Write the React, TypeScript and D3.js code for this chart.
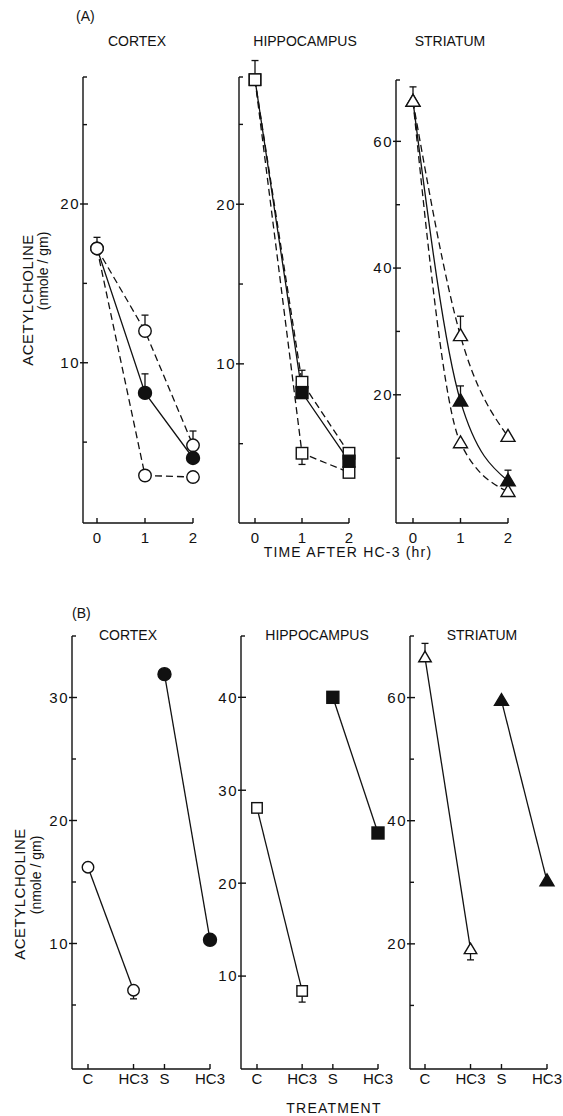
import React from 'react';
import * as d3 from 'd3';

// ---- Panel A : time after HC-3 (hr) ----
const hours = [0, 1, 2];

const cortexSolid = [17.2, 8.1, 4.0];
const cortexSolidErr = [0.7, 1.2, 0];
const cortexUpper = [17.2, 12.0, 4.8];
const cortexUpperErr = [0, 1.0, 0.9];
const cortexLower = [17.2, 2.9, 2.8];

const hippoSolid = [27.8, 8.2, 3.9];
const hippoUpper = [27.8, 8.85, 4.4];
const hippoUpperErr = [1.2, 0.75, 0];
const hippoLower = [27.8, 4.4, 3.2];
const hippoLowerErr = [0, -0.7, 0];

const striSolid = [66.3, 19.0, 6.4];
const striSolidErr = [2.3, 2.4, 1.7];
const striUpper = [66.3, 29.3, 13.4];
const striUpperErr = [0, 3.1, 0];
const striLower = [66.3, 12.4, 4.7];

// ---- Panel B : treatment ----
const treatments = ['C', 'HC3', 'S', 'HC3'];
const treatSpacing = [0, 1, 1.68, 2.68];

const cortexB = [16.2, 6.2, 31.9, 10.3];
const cortexBErr = [0, -0.7, 0, 0];
const hippoB = [28.1, 8.4, 40, 25.4];
const hippoBErr = [0, -1.2, 0, 0];
const striB = [66.5, 19.1, 59.5, 30.2];
const striBErr = [2.3, -1.7, 0, 0];

const FONT = '"Liberation Sans", Arial, Helvetica, sans-serif';
const INK = '#111';

const Marker = ({ shape, x, y, filled, s }: any) => {
  const fill = filled ? INK : '#fff';
  if (shape === 'circle') return <circle cx={x} cy={y} r={s / 2} fill={fill} stroke={INK} strokeWidth={1.4} />;
  if (shape === 'square') return <rect x={x - s / 2} y={y - s / 2} width={s} height={s} fill={fill} stroke={INK} strokeWidth={1.4} />;
  const h = s * 0.85;
  return (
    <path
      d={`M${x},${y - h * 0.6} L${x + s / 2},${y + h * 0.4} L${x - s / 2},${y + h * 0.4} Z`}
      fill={fill}
      stroke={INK}
      strokeWidth={1.4}
    />
  );
};

const ErrBar = ({ x, y, y2 }: any) => (
  <g stroke={INK} strokeWidth={1.3}>
    <line x1={x} x2={x} y1={y} y2={y2} />
    <line x1={x - 3.5} x2={x + 3.5} y1={y2} y2={y2} />
  </g>
);

const YAxis = ({ x, y, top, major, minor, bottom }: any) => (
  <g stroke={INK} strokeWidth={1.4}>
    <line x1={x} x2={x} y1={top} y2={bottom} />
    <line x1={x} x2={x + 4} y1={top} y2={top} />
    {major.map((t: number) => (
      <g key={'M' + t}>
        <line x1={x - 3} x2={x + 5} y1={y(t)} y2={y(t)} />
        <text x={x - 3} y={y(t)} dy="0.36em" textAnchor="end" fontSize={15} fontFamily={FONT} letterSpacing={1.5} fill={INK} stroke="none">
          {t}
        </text>
      </g>
    ))}
    {minor.map((t: number) => (
      <line key={'m' + t} x1={x} x2={x + 4} y1={y(t)} y2={y(t)} />
    ))}
  </g>
);

const XAxis = ({ x0, y0, positions, labels, labelY }: any) => (
  <g stroke={INK} strokeWidth={1.4}>
    <line x1={x0} x2={positions[positions.length - 1]} y1={y0} y2={y0} />
    {positions.map((p: number, i: number) => (
      <g key={i}>
        <line x1={p} x2={p} y1={y0} y2={y0 - 5} />
        <text x={p} y={labelY} textAnchor="middle" fontSize={15} fontFamily={FONT} fill={INK} stroke="none">
          {labels[i]}
        </text>
      </g>
    ))}
  </g>
);

const A_BOTTOM = 523;
const B_BOTTOM = 1069;

// one panel-A subplot
const TimePanel = ({ axisX, xr, ymax, yr, top, major, minor, shape, series, curve, title, titleX }: any) => {
  const x = d3.scaleLinear().domain([0, 2]).range(xr);
  const y = d3.scaleLinear().domain([0, ymax]).range(yr);
  const line = d3
    .line<number>()
    .x((_, i) => x(hours[i]))
    .y((d) => y(d))
    .curve(curve ? d3.curveMonotoneX : d3.curveLinear);
  const size = shape === 'circle' ? 12.5 : shape === 'square' ? 11.5 : 14;
  return (
    <g>
      <text x={titleX} y={46} textAnchor="middle" fontSize={14} fontFamily={FONT} fill={INK}>
        {title}
      </text>
      <YAxis x={axisX} y={y} top={top} major={major} minor={minor} bottom={A_BOTTOM} />
      <XAxis x0={axisX} y0={A_BOTTOM} positions={hours.map((h) => x(h))} labels={hours.map(String)} labelY={543} />
      {series.map((s: any, k: number) => (
        <path key={k} d={line(s.values) || ''} fill="none" stroke={INK} strokeWidth={1.3} strokeDasharray={s.dashed ? '7,4' : undefined} />
      ))}
      {series.map((s: any, k: number) =>
        s.values.map((v: number, i: number) =>
          s.err && s.err[i] ? <ErrBar key={`e${k}${i}`} x={x(hours[i])} y={y(v)} y2={y(v + s.err[i])} /> : null
        )
      )}
      {series.map((s: any, k: number) =>
        s.values.map((v: number, i: number) =>
          s.filled && i === 0 ? null : (
            <Marker key={`m${k}${i}`} shape={shape} x={x(hours[i])} y={y(v)} filled={s.filled} s={s.filled ? size + 0.5 : size} />
          )
        )
      )}
    </g>
  );
};

// one panel-B subplot
const TreatPanel = ({ axisX, xr, ymax, yr, top, major, minor, shape, values, err, title, titleX }: any) => {
  const x = d3.scaleLinear().domain([0, treatSpacing[3]]).range(xr);
  const y = d3.scaleLinear().domain([0, ymax]).range(yr);
  const pos = treatSpacing.map((t) => x(t));
  const size = shape === 'circle' ? 11.5 : shape === 'square' ? 10.5 : 12.5;
  const pairs = [
    [0, 1],
    [2, 3],
  ];
  return (
    <g>
      <text x={titleX} y={640} textAnchor="middle" fontSize={14} fontFamily={FONT} fill={INK}>
        {title}
      </text>
      <YAxis x={axisX} y={y} top={top} major={major} minor={minor} bottom={B_BOTTOM} />
      <XAxis x0={axisX} y0={B_BOTTOM} positions={pos} labels={treatments} labelY={1084} />
      {pairs.map(([a, b]) => (
        <line key={a} x1={pos[a]} y1={y(values[a])} x2={pos[b]} y2={y(values[b])} stroke={INK} strokeWidth={1.3} />
      ))}
      {values.map((v: number, i: number) => (err[i] ? <ErrBar key={'e' + i} x={pos[i]} y={y(v)} y2={y(v + err[i])} /> : null))}
      {values.map((v: number, i: number) => (
        <Marker key={'m' + i} shape={shape} x={pos[i]} y={y(v)} filled={i >= 2} s={i >= 2 ? size + 1.5 : size} />
      ))}
    </g>
  );
};

const YLabel = ({ x1, y1, x2, y2 }: any) => (
  <g fontFamily={FONT} fill={INK}>
    <text transform={`translate(${x1},${y1}) rotate(-90)`} textAnchor="middle" dominantBaseline="central" fontSize={15} letterSpacing={0.5}>
      ACETYLCHOLINE
    </text>
    <text transform={`translate(${x2},${y2}) rotate(-90)`} textAnchor="middle" dominantBaseline="central" fontSize={14}>
      (nmole / gm)
    </text>
  </g>
);

export default function App() {
  return (
    <svg width={563} height={1116} style={{ position: 'absolute', left: 0, top: 0, background: '#fff' }}>
      <rect width={563} height={1116} fill="#fff" />
      {/* (A) */}
      <text x={76} y={21} fontSize={14} fontFamily={FONT} fill={INK}>
        (A)
      </text>
      <YLabel x1={27} y1={300} x2={43} y2={271} />
      <TimePanel
        axisX={83}
        xr={[97, 193]}
        ymax={28}
        yr={[521.5, 77]}
        top={77}
        major={[10, 20]}
        minor={[5, 15, 25]}
        shape="circle"
        title="CORTEX"
        titleX={137}
        series={[
          { values: cortexUpper, err: cortexUpperErr, dashed: true },
          { values: cortexLower, dashed: true },
          { values: cortexSolid, err: cortexSolidErr, filled: true },
        ]}
      />
      <TimePanel
        axisX={239}
        xr={[255, 349]}
        ymax={28}
        yr={[523.5, 76.5]}
        top={77}
        major={[10, 20]}
        minor={[5, 15, 25]}
        shape="square"
        title="HIPPOCAMPUS"
        titleX={305}
        series={[
          { values: hippoUpper, err: hippoUpperErr, dashed: true },
          { values: hippoLower, err: hippoLowerErr, dashed: true },
          { values: hippoSolid, filled: true },
        ]}
      />
      <TimePanel
        axisX={396}
        xr={[413, 508]}
        ymax={70}
        yr={[521.5, 78]}
        top={80}
        major={[20, 40, 60]}
        minor={[10, 30, 50]}
        shape="triangle"
        curve
        title="STRIATUM"
        titleX={450}
        series={[
          { values: striUpper, err: striUpperErr, dashed: true },
          { values: striLower, dashed: true },
          { values: striSolid, err: striSolidErr, filled: true },
        ]}
      />
      <text x={348} y={557} textAnchor="middle" fontSize={14} fontFamily={FONT} letterSpacing={1.2} fill={INK}>
        TIME AFTER HC-3 (hr)
      </text>

      {/* (B) */}
      <text x={72} y={618} fontSize={14} fontFamily={FONT} fill={INK}>
        (B)
      </text>
      <YLabel x1={19} y1={894} x2={36} y2={875} />
      <TreatPanel
        axisX={72}
        xr={[88, 210]}
        ymax={35}
        yr={[1066.5, 636]}
        top={636}
        major={[10, 20, 30]}
        minor={[5, 15, 25]}
        shape="circle"
        values={cortexB}
        err={cortexBErr}
        title="CORTEX"
        titleX={128}
      />
      <TreatPanel
        axisX={241}
        xr={[257, 378]}
        ymax={46.6}
        yr={[1069, 636]}
        top={636}
        major={[10, 20, 30, 40]}
        minor={[]}
        shape="square"
        values={hippoB}
        err={hippoBErr}
        title="HIPPOCAMPUS"
        titleX={317}
      />
      <TreatPanel
        axisX={410}
        xr={[425, 547]}
        ymax={70}
        yr={[1067, 636]}
        top={636}
        major={[20, 40, 60]}
        minor={[10, 30, 50]}
        shape="triangle"
        values={striB}
        err={striBErr}
        title="STRIATUM"
        titleX={482}
      />
      <text x={334} y={1113} textAnchor="middle" fontSize={14} fontFamily={FONT} letterSpacing={1.2} fill={INK}>
        TREATMENT
      </text>
    </svg>
  );
}
